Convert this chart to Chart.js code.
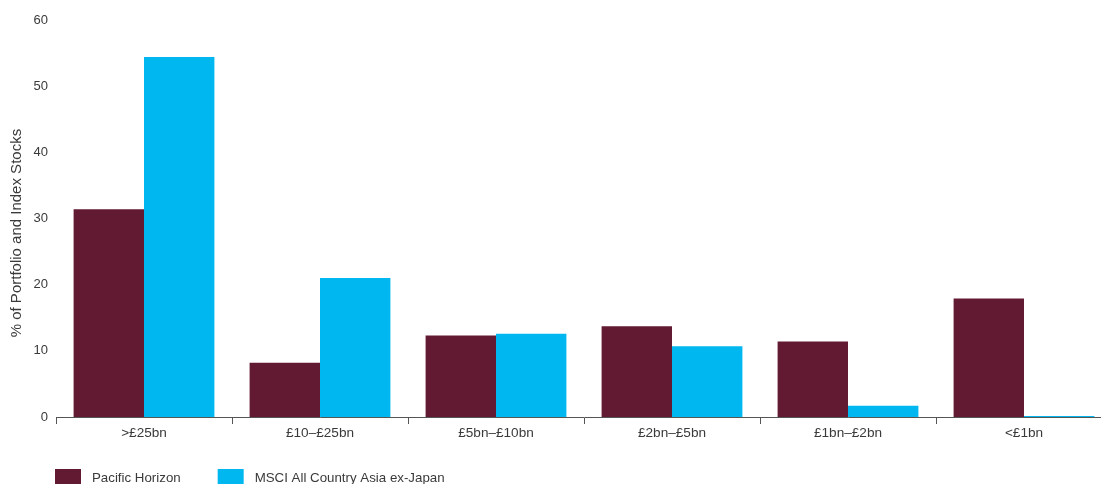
<!DOCTYPE html>
<html>
<head>
<meta charset="utf-8">
<script src="https://cdn.jsdelivr.net/npm/chart.js@4/dist/chart.umd.min.js"></script>
<style>
  html, body { margin: 0; padding: 0; background: #ffffff; overflow: hidden; }
  #wrap { width: 1101px; height: 484px; overflow: hidden; position: relative; }
  canvas { display: block; }
</style>
</head>
<body>
<div id="wrap"><canvas id="c" width="1112" height="497"></canvas></div>
<script>
const categories = ['>£25bn', '£10–£25bn', '£5bn–£10bn', '£2bn–£5bn', '£1bn–£2bn', '<£1bn'];
const pacificHorizon = [31.4, 8.2, 12.3, 13.7, 11.4, 17.9];
const msciAsiaExJapan = [54.4, 21.0, 12.6, 10.7, 1.7, 0.15];
const yTicks = [0, 10, 20, 30, 40, 50, 60];
const seriesNames = ['Pacific Horizon', 'MSCI All Country Asia ex-Japan'];
const seriesColors = ['#621a33', '#00b7f0'];
const yTitle = '% of Portfolio and Index Stocks';

const FONT = '"Liberation Sans", Arial, Helvetica, sans-serif';
const TEXT = '#3a3a3a';

// simple bottom-left legend drawn from the datasets
const bottomLegend = {
  id: 'bottomLegend',
  afterDraw(chart) {
    const ctx = chart.ctx;
    ctx.save();
    ctx.font = '13.3px ' + FONT;
    ctx.textBaseline = 'middle';
    ctx.textAlign = 'left';
    let x = 55;
    const boxTop = 469, boxW = 26, boxH = 18, gapText = 11, gapItem = 37;
    chart.data.datasets.forEach((ds) => {
      ctx.fillStyle = ds.backgroundColor;
      ctx.fillRect(x, boxTop, boxW, boxH);
      ctx.fillStyle = TEXT;
      const tx = x + boxW + gapText;
      ctx.fillText(ds.label, tx, 478);
      x = tx + ctx.measureText(ds.label).width + gapItem;
    });
    ctx.restore();
  }
};

new Chart(document.getElementById('c'), {
  type: 'bar',
  data: {
    labels: categories,
    datasets: [
      { label: seriesNames[0], data: pacificHorizon, backgroundColor: seriesColors[0], borderWidth: 0,
        categoryPercentage: 0.8, barPercentage: 1.0 },
      { label: seriesNames[1], data: msciAsiaExJapan, backgroundColor: seriesColors[1], borderWidth: 0,
        categoryPercentage: 0.8, barPercentage: 1.0 }
    ]
  },
  plugins: [bottomLegend],
  options: {
    responsive: false,
    animation: false,
    devicePixelRatio: 1,
    layout: { padding: { left: 0, right: 0, top: 20, bottom: 50 } },
    plugins: {
      tooltip: { enabled: false },
      legend: { display: false }
    },
    scales: {
      x: {
        afterFit: (s) => { s.height = 30; },
        grid: { display: true, drawOnChartArea: false, drawTicks: true, tickLength: 7, color: '#555555', offset: true },
        border: { display: true, color: '#555555', width: 1 },
        ticks: { color: TEXT, padding: 1, font: { family: FONT, size: 13.6 }, maxRotation: 0, autoSkip: false }
      },
      y: {
        min: 0,
        max: 60,
        afterFit: (s) => { s.width = 56; },
        afterBuildTicks: (s) => { s.ticks = yTicks.map(v => ({ value: v })); },
        grid: { display: false, drawTicks: false },
        border: { display: false },
        ticks: { color: TEXT, padding: 8, font: { family: FONT, size: 13 } },
        title: {
          display: true,
          text: yTitle + '\u00a0\u00a0\u00a0\u00a0\u00a0\u00a0\u00a0',
          color: TEXT,
          font: { family: FONT, size: 15, lineHeight: 1.2 },
          padding: { top: 8, bottom: 0 }
        }
      }
    }
  }
});
</script>
</body>
</html>
